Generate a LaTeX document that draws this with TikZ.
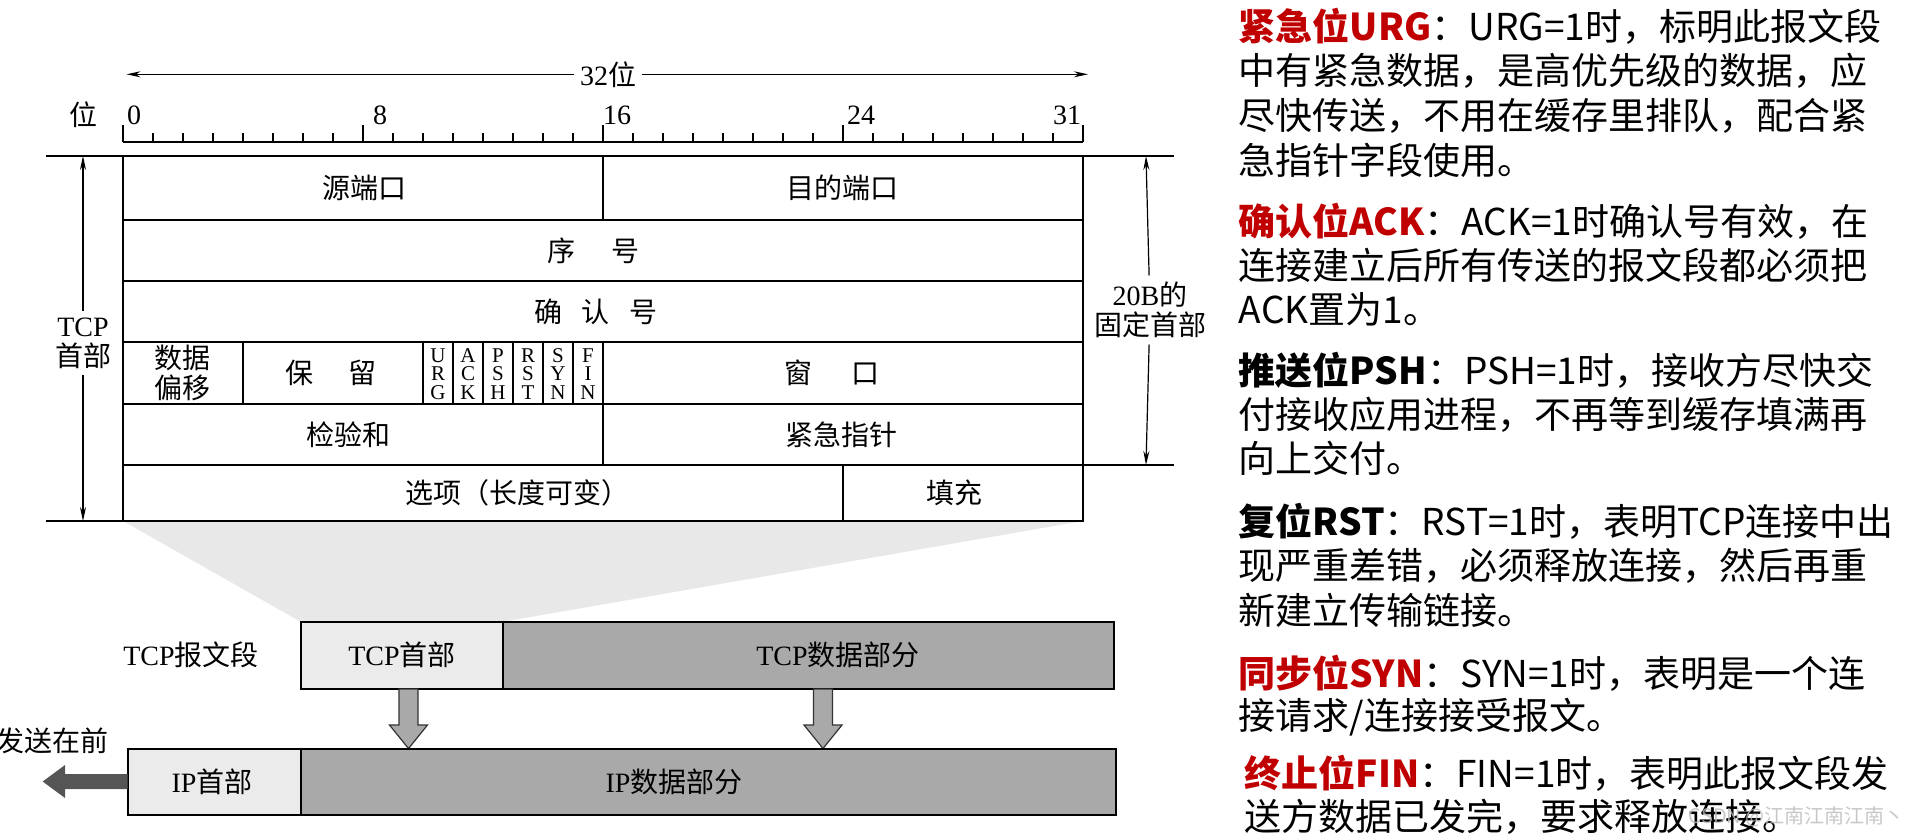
\documentclass[tikz,border=0pt]{standalone}
\usepackage{fontspec}
\setmainfont{Liberation Serif}
\newfontfamily\cjk{Noto Sans CJK SC}
\usetikzlibrary{arrows.meta}
\newcommand\zh[1]{{\cjk #1}}
\definecolor{hred}{HTML}{C00000}
\definecolor{lightbox}{HTML}{EBEBEB}
\definecolor{darkbox}{HTML}{A9A9A9}
\definecolor{zoomgray}{HTML}{E8E8E8}
\definecolor{sendarrow}{HTML}{555555}
\begin{document}
\begin{tikzpicture}[x=0.5pt,y=-0.5pt,
  lbl/.style={font=\fontsize{14}{15}\selectfont, inner sep=0pt},
  lblz/.style={font=\cjk\fontsize{14}{15}\selectfont, inner sep=0pt},
  flag/.style={font=\fontsize{10.5}{9.2}\selectfont, align=center, inner sep=0pt},
  rt/.style={anchor=west, inner sep=0pt, font=\cjk\fontsize{18.5}{22}\selectfont},
  dimarrow/.style={-{Stealth[length=7pt,width=3pt]}, line width=0.6pt},
  outerline/.style={line width=1.2pt},
  innerline/.style={line width=0.75pt},
  segbox/.style={line width=1pt},
  blockarrow/.style={fill=darkbox, draw=black!80, line width=0.6pt}
]
\useasboundingbox (0,0) rectangle (1917,840);

% zoom trapezoid
\fill[zoomgray] (123,521) -- (1083,521) -- (503.4,621.7) -- (300.5,621.7) -- cycle;

% 32-bit width arrow
\coordinate (wl) at (126.5,74.3);
\coordinate (wr) at (1088,74.3);
\node[lbl, fill=white, inner xsep=3pt, inner ysep=1pt] (w32) at (608,74.3) {32\zh{位}};
\draw[dimarrow] (w32) -- (wl);
\draw[dimarrow] (w32) -- (wr);

% ruler
\node[lblz] (bitlbl) at (83,115) {位};
\node[lbl] (n0) at (134,115) {0};
\node[lbl] (n8) at (380,115) {8};
\node[lbl] (n16) at (617,115) {16};
\node[lbl] (n24) at (861,115) {24};
\node[lbl] (n31) at (1067,115) {31};
\draw[line width=0.6pt] (123,142) -- (1083,142);
\foreach \i in {1,...,31} \draw[line width=0.6pt] (123+30*\i,142) -- ++(0,-9);
\foreach \i in {0,8,16,24,32} \draw[line width=0.6pt] (123+30*\i,142) -- ++(0,-17);

% extension lines
\draw[innerline] (46,156) -- (1174,156);
\draw[innerline] (1083,465) -- (1174,465);
\draw[innerline] (46,521) -- (123,521);

% header grid
\foreach \yy in {220,281,342,404,465} \draw[innerline] (123,\yy) -- (1083,\yy);
\draw[innerline] (603,156) -- (603,220);
\draw[innerline] (243,342) -- (243,404);
\foreach \xx in {423,453,...,603} \draw[innerline] (\xx,342) -- (\xx,404);
\draw[innerline] (603,404) -- (603,465);
\draw[innerline] (843,465) -- (843,521);
\draw[outerline] (123,156) rectangle (1083,521);

% header texts
\node[lblz] (srcport) at (364,188) {源端口};
\node[lblz] (dstport) at (842,188) {目的端口};
\node[lblz] (seqno) at (593.5,250.5) {序\hspace{18pt}号};
\node[lblz] (ackno) at (596,311.5) {确\hspace{10pt}认\hspace{10pt}号};
\node[lblz, align=center] (doff) at (182,373) {数据\\偏移};
\node[lblz] (rsv) at (331,373) {保\hspace{18pt}留};
\node[flag] (furg) at (438,374) {U\\R\\G};
\node[flag] (fack) at (468,374) {A\\C\\K};
\node[flag] (fpsh) at (498,374) {P\\S\\H};
\node[flag] (frst) at (528,374) {R\\S\\T};
\node[flag] (fsyn) at (558,374) {S\\Y\\N};
\node[flag] (ffin) at (588,374) {F\\I\\N};
\node[lblz] (win) at (832,373) {窗\hspace{20pt}口};
\node[lblz] (cksum) at (348,434.5) {检验和};
\node[lblz] (urgp) at (841,434.5) {紧急指针};
\node[lblz] (opts) at (517,493) {选项（长度可变）};
\node[lblz] (pad) at (954,493) {填充};

% dimension arrows
\coordinate (lt) at (83,156);
\coordinate (lb) at (83,521);
\node[lbl, align=center, fill=white, inner sep=3pt] (tcph) at (83,343) {TCP\\\zh{首部}};
\draw[dimarrow] (tcph) -- (lt);
\draw[dimarrow] (tcph) -- (lb);
\coordinate (rtop) at (1146,156);
\coordinate (rbot) at (1146,465);
\node[lbl, align=center, fill=white, inner sep=3pt] (fixh) at (1150,310) {20B\zh{的}\\\zh{固定首部}};
\draw[dimarrow] (fixh) -- (rtop);
\draw[dimarrow] (fixh) -- (rbot);

% TCP segment
\draw[segbox, fill=lightbox] (300.5,621.7) rectangle (503.4,689);
\draw[segbox, fill=darkbox] (503.4,621.7) rectangle (1114,689);
\node[lbl] (segl) at (191,655) {TCP\zh{报文段}};
\node[lbl] (tcphd) at (402,655) {TCP\zh{首部}};
\node[lbl] (tcpdata) at (838,655) {TCP\zh{数据部分}};

% down block arrows
\draw[blockarrow] (399,689) -- (399,725) -- (389.5,725) -- (408.5,748.5) -- (427.5,725) -- (418,725) -- (418,689) -- cycle;
\draw[blockarrow] (813.5,689) -- (813.5,725) -- (804,725) -- (823,748.5) -- (842,725) -- (832.5,725) -- (832.5,689) -- cycle;

% IP datagram
\draw[segbox, fill=lightbox] (127.7,748.7) rectangle (300.5,815);
\draw[segbox, fill=darkbox] (300.5,748.7) rectangle (1116.4,815);
\node[lbl] (iphd) at (212,782) {IP\zh{首部}};
\node[lbl] (ipdata) at (674,782) {IP\zh{数据部分}};

% send-first arrow
\fill[sendarrow] (127.7,774) -- (65,774) -- (65,765) -- (42.7,781.5) -- (65,798) -- (65,789) -- (127.7,789) -- cycle;
\node[lblz, anchor=east] (sendf) at (109,741) {发送在前};

% right-hand explanations
\node[rt] (u1) at (1238.5,26.7) {\textcolor{hred}{\bfseries 紧急位URG}：URG=1时，标明此报文段};
\node[rt] (u2) at (1238.5,71.2) {中有紧急数据，是高优先级的数据，应};
\node[rt] (u3) at (1238.5,115.7) {尽快传送，不用在缓存里排队，配合紧};
\node[rt] (u4) at (1238.5,160.2) {急指针字段使用。};
\node[rt] (a1) at (1238.5,221.7) {\textcolor{hred}{\bfseries 确认位ACK}：ACK=1时确认号有效，在};
\node[rt] (a2) at (1238.5,265.7) {连接建立后所有传送的报文段都必须把};
\node[rt] (a3) at (1238.5,309.7) {ACK置为1。};
\node[rt] (p1) at (1238.5,370.7) {{\bfseries 推送位PSH}：PSH=1时，接收方尽快交};
\node[rt] (p2) at (1238.5,414.7) {付接收应用进程，不再等到缓存填满再};
\node[rt] (p3) at (1238.5,458.7) {向上交付。};
\node[rt] (s1) at (1238.5,521) {{\bfseries 复位RST}：RST=1时，表明TCP连接中出};
\node[rt] (s2) at (1238.5,565.5) {现严重差错，必须释放连接，然后再重};
\node[rt] (s3) at (1238.5,610) {新建立传输链接。};
\node[rt] (y1) at (1238.5,673) {\textcolor{hred}{\bfseries 同步位SYN}：SYN=1时，表明是一个连};
\node[rt] (y2) at (1238.5,717) {接请求/连接接受报文。};
\node[rt] (f1) at (1244.5,773) {\textcolor{hred}{\bfseries 终止位FIN}：FIN=1时，表明此报文段发};
\node[rt] (f2) at (1244.5,817) {送方数据已发完，要求释放连接。};
\node[font=\cjk\fontsize{10}{10}\selectfont, text=gray!55, opacity=0.8, anchor=east, inner sep=0pt] (wm) at (1905,817) {CSDN @江南江南江南丶};
\end{tikzpicture}
\end{document}
